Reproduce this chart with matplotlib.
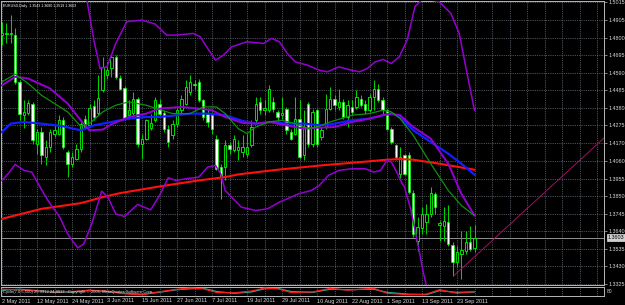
import matplotlib
matplotlib.use('Agg')
import matplotlib.pyplot as plt
import numpy as np
from matplotlib.transforms import blended_transform_factory
from matplotlib import font_manager

plt.rcParams['font.family'] = ['Liberation Sans', 'DejaVu Sans']
_names = {f.name for f in font_manager.fontManager.ttflist}
narrow_family = ['Liberation Sans Narrow', 'Liberation Sans'] if 'Liberation Sans Narrow' in _names else ['Liberation Sans']

# ---------------- data ----------------
title = "EURUSD,Daily  1.3543 1.3680 1.3519 1.3603"

opens = [1.4815,1.4819,1.4819,1.4815,1.4533,1.4335,1.4351,1.4405,1.4165,1.4235,
         1.4085,1.4145,1.4225,1.4225,1.4305,1.4115,1.4045,1.4075,1.4135,1.4315,
         1.4275,1.4389,1.4351,1.4485,1.4575,1.4615,1.4685,1.4561,1.4501,1.4335,
         1.4351,1.4435,1.4165,1.4195,1.4261,1.4305,1.4405,1.4351,1.4255,1.4215,
         1.4285,1.4365,1.4405,1.4475,1.4525,1.4535,1.4425,1.4345,1.4335,1.4195,
         1.4025,1.4025,1.4155,1.4125,1.4125,1.4115,1.4105,1.4155,1.4305,1.4415,
         1.4365,1.4365,1.4415,1.4355,1.4335,1.4375,1.4235,1.4225,1.4315,1.4095,
         1.4405,1.4165,1.4365,1.4205,1.4265,1.4375,1.4435,1.4385,1.4415,1.4325,
         1.4385,1.4385,1.4435,1.4405,1.4365,1.4445,1.4495,1.4425,1.4365,1.4255,
         1.4155,1.3985,1.4095,1.4095,1.3869,1.3585,1.3661,1.3695,1.3745,1.3865,
         1.3681,1.3675,1.3695,1.3561,1.3455,1.3505,1.3525,1.3575,1.3543]
highs = [1.4895,1.4885,1.4935,1.4855,1.4545,1.4425,1.4425,1.4415,1.4255,1.4265,
         1.4185,1.4255,1.4285,1.4335,1.4325,1.4125,1.4115,1.4165,1.4295,1.4335,
         1.4405,1.4425,1.4575,1.4685,1.4655,1.4695,1.4695,1.4575,1.4509,1.4425,
         1.4475,1.4445,1.4225,1.4315,1.4345,1.4445,1.4435,1.4365,1.4275,1.4305,
         1.4385,1.4455,1.4545,1.4575,1.4545,1.4555,1.4435,1.4365,1.4355,1.4215,
         1.4045,1.4185,1.4175,1.4215,1.4185,1.4215,1.4225,1.4305,1.4445,1.4445,
         1.4425,1.4515,1.4445,1.4365,1.4445,1.4385,1.4255,1.4445,1.4425,1.4365,
         1.4415,1.4375,1.4375,1.4265,1.4465,1.4505,1.4455,1.4495,1.4435,1.4425,
         1.4425,1.4485,1.4455,1.4425,1.4465,1.4545,1.4525,1.4445,1.4375,1.4265,
         1.4165,1.4145,1.4105,1.4115,1.3885,1.3725,1.3785,1.3805,1.3905,1.3875,
         1.3705,1.3785,1.3795,1.3575,1.3555,1.3645,1.3645,1.3675,1.3680]
lows = [1.4755,1.4765,1.4765,1.4525,1.4305,1.4257,1.4335,1.4165,1.4105,1.4045,
        1.4035,1.4115,1.4205,1.4215,1.4135,1.3965,1.4025,1.4065,1.4115,1.4255,
        1.4265,1.4305,1.4335,1.4475,1.4555,1.4565,1.4555,1.4485,1.4309,1.4315,
        1.4335,1.4145,1.4075,1.4185,1.4245,1.4295,1.4325,1.4235,1.4145,1.4195,
        1.4265,1.4345,1.4395,1.4455,1.4495,1.4415,1.4305,1.4265,1.4225,1.4005,
        1.3835,1.3945,1.4105,1.4115,1.4065,1.4085,1.4085,1.4145,1.4285,1.4345,
        1.4335,1.4355,1.4355,1.4295,1.4315,1.4225,1.4185,1.4215,1.4075,1.4065,
        1.4145,1.4145,1.4145,1.4185,1.4255,1.4365,1.4365,1.4365,1.4315,1.4265,
        1.4335,1.4375,1.4385,1.4345,1.4355,1.4365,1.4415,1.4345,1.4245,1.4165,
        1.4065,1.3945,1.3975,1.3865,1.3605,1.3525,1.3625,1.3625,1.3725,1.3745,
        1.3585,1.3585,1.3555,1.3375,1.3425,1.3355,1.3505,1.3521,1.3519]
closes = [1.4825,1.4825,1.4829,1.4533,1.4345,1.4355,1.4407,1.4185,1.4235,1.4095,
          1.4145,1.4235,1.4245,1.4305,1.4145,1.4041,1.4085,1.4135,1.4285,1.4265,
          1.4381,1.4325,1.4441,1.4623,1.4605,1.4685,1.4565,1.4495,1.4321,1.4365,
          1.4435,1.4165,1.4195,1.4305,1.4291,1.4425,1.4345,1.4255,1.4175,1.4285,
          1.4365,1.4435,1.4505,1.4535,1.4515,1.4425,1.4325,1.4295,1.4255,1.4015,
          1.3965,1.4155,1.4135,1.4195,1.4145,1.4145,1.4145,1.4265,1.4405,1.4365,
          1.4381,1.4495,1.4375,1.4325,1.4351,1.4245,1.4195,1.4315,1.4085,1.4265,
          1.4165,1.4355,1.4165,1.4245,1.4375,1.4435,1.4395,1.4415,1.4325,1.4395,
          1.4355,1.4445,1.4395,1.4365,1.4445,1.4495,1.4425,1.4365,1.4255,1.4175,
          1.4085,1.4085,1.3985,1.3875,1.3625,1.3665,1.3745,1.3745,1.3871,1.3785,
          1.3689,1.3701,1.3565,1.3455,1.3515,1.3529,1.3575,1.3535,1.3603]

# long moving average (red)
red_idx = [0, 9, 18, 23, 27, 36, 45, 51, 54, 63, 73, 82, 88, 91, 94, 100, 108]
red_val = [1.3715, 1.3775, 1.3809, 1.3845, 1.3869, 1.3909, 1.3945, 1.3965, 1.3981,
           1.4009, 1.4035, 1.4055, 1.4069, 1.4073, 1.4069, 1.4045, 1.4009]

# blue moving average
blue_idx = [0, 2, 5, 9, 14, 18, 21, 25, 29, 33, 36, 40, 43, 47, 51, 55, 58, 62, 65, 69,
            73, 76, 80, 84, 87, 89, 91, 94, 98, 102, 105, 108]
blue_val = [1.4235, 1.4285, 1.4295, 1.4285, 1.4269, 1.4245, 1.4275, 1.4295, 1.4315,
            1.4325, 1.4325, 1.4335, 1.4345, 1.4345, 1.4335, 1.4301, 1.4285, 1.4295,
            1.4285, 1.4285, 1.4275, 1.4285, 1.4305, 1.4315, 1.4335, 1.4345, 1.4325,
            1.4245, 1.4175, 1.4105, 1.4045, 1.3979]

# inner purple moving average
mid_idx = [0, 3, 6, 11, 15, 18, 20, 23, 25, 29, 33, 36, 41, 45, 48, 51, 55, 58, 61, 65,
           69, 73, 76, 80, 84, 87, 89, 91, 94, 98, 102, 105, 108]
mid_val = [1.4515, 1.4565, 1.4555, 1.4495, 1.4405, 1.4305, 1.4245, 1.4249, 1.4281,
           1.4325, 1.4345, 1.4375, 1.4385, 1.4375, 1.4365, 1.4325, 1.4289, 1.4285,
           1.4295, 1.4275, 1.4255, 1.4261, 1.4265, 1.4295, 1.4315, 1.4335, 1.4345,
           1.4335, 1.4265, 1.4195, 1.4045, 1.3865, 1.3735]

# green moving average
green_idx = [0, 3, 6, 9, 12, 15, 18, 20, 23, 26, 29, 33, 36, 39, 43, 46, 49, 51, 54, 56,
             58, 61, 64, 67, 70, 72, 75, 80, 84, 87, 89, 91, 94, 98, 102, 105, 108]
green_val = [1.4535, 1.4581, 1.4525, 1.4455, 1.4405, 1.4355, 1.4269, 1.4285, 1.4355,
             1.4395, 1.4415, 1.4395, 1.4369, 1.4345, 1.4345, 1.4385, 1.4385, 1.4345,
             1.4255, 1.4225, 1.4265, 1.4295, 1.4305, 1.4285, 1.4255, 1.4265, 1.4295,
             1.4335, 1.4345, 1.4365, 1.4355, 1.4315, 1.4215, 1.4045, 1.3885, 1.3795,
             1.3735]

# outer bands (purple)
upper_idx = [16, 19.4, 21, 22.4, 24, 26, 28.5, 32, 35, 37.6, 40, 43.7, 45.3, 47, 48.8,
             50.6, 52.5, 56, 59.8, 61.6, 63.4, 65.2, 67, 69.8, 72.5, 74.4, 77, 79.8,
             81.7, 83.5, 85.3, 87.1, 89, 90.8, 92.6, 94.4, 96.3, 99.9, 102.6, 104.5,
             106.3, 108]
upper_val = [1.5525, 1.5025, 1.4785, 1.4615, 1.4625, 1.4765, 1.4895, 1.4905, 1.4881,
             1.4815, 1.4815, 1.4825, 1.4805, 1.4735, 1.4665, 1.4695, 1.4745, 1.4775,
             1.4765, 1.4795, 1.4775, 1.4705, 1.4655, 1.4635, 1.4605, 1.4595, 1.4625,
             1.4605, 1.4595, 1.4615, 1.4655, 1.4669, 1.4645, 1.4685, 1.4785, 1.4985,
             1.5035, 1.5015, 1.4945, 1.4825, 1.4585, 1.4365]
lower_idx = [0, 1.4, 3, 5, 6.8, 8.7, 10.5, 13.2, 15, 17.3, 18.7, 20.5, 22.8, 24.2, 26,
             28, 31, 34, 36, 38, 39.7, 42, 45, 47, 48.8, 50, 51, 52.5, 54.7, 58, 60.7,
             63.4, 65.2, 67.8, 70.7, 72.5, 74.6, 77, 80, 83, 85, 86.5, 88, 89, 90.2,
             91.5, 92, 93.5, 94.4, 95.5, 96.2, 97, 98]
lower_val = [1.3945, 1.3985, 1.4041, 1.4005, 1.3995, 1.3905, 1.3825, 1.3725, 1.3625,
             1.3541, 1.3565, 1.3685, 1.3881, 1.3845, 1.3745, 1.3729, 1.3801, 1.3769,
             1.3855, 1.3961, 1.3945, 1.3955, 1.3965, 1.4025, 1.4035, 1.3985, 1.3885,
             1.3845, 1.3785, 1.3765, 1.3775, 1.3815, 1.3835, 1.3865, 1.3885, 1.3915,
             1.3975, 1.4005, 1.4015, 1.4015, 1.3995, 1.4005, 1.4065, 1.4055, 1.3995,
             1.3925, 1.3905, 1.3765, 1.3645, 1.3505, 1.3405, 1.3315, 1.3185]

# trend line anchors
trend_idx = [103.3, 137.6]
trend_val = [1.3375, 1.4199]

bid_price = 1.3603

price_ticks = [1.5015, 1.4905, 1.4800, 1.4695, 1.4590, 1.4485, 1.4380, 1.4275, 1.4170,
               1.4060, 1.3955, 1.3850, 1.3745, 1.3640, 1.3535, 1.3430, 1.3325]
price_labels = ["1.5015", "1.4905", "1.4800", "1.4695", "1.4590", "1.4485", "1.4380",
                "1.4275", "1.4170", "1.4060", "1.3955", "1.3850", "1.3745", "1.3640",
                "1.3535", "1.3430", "1.3325"]

date_idx = [0, 8, 16, 24, 32, 40, 48, 56, 64, 72, 80, 88, 96, 104]
date_labels = ["2 May 2011", "12 May 2011", "24 May 2011", "3 Jun 2011", "15 Jun 2011",
               "27 Jun 2011", "7 Jul 2011", "19 Jul 2011", "29 Jul 2011", "10 Aug 2011",
               "22 Aug 2011", "1 Sep 2011", "13 Sep 2011", "23 Sep 2011"]

# oscillator sub-window
osc_idx = [0, 4, 8, 12, 16, 20, 24, 28, 32, 35, 40, 43, 46, 49, 53, 57, 60, 63, 66, 71,
           75, 79, 85, 88, 93, 97, 100, 104, 108]
osc_red = [75, 70, 55, 45, 50, 60, 55, 25, 12, 40, 75, 88, 80, 40, 35, 55, 88, 80, 40, 45,
           85, 65, 85, 30, 15, 20, 70, 30, 50]
osc_teal = [65, 75, 60, 40, 45, 65, 50, 30, 20, 35, 70, 80, 85, 50, 30, 45, 80, 85, 50, 40,
            75, 70, 75, 40, 20, 15, 60, 40, 45]
osc_caption = "Cycle(7,0.5,500) 25.3912 24.8017   Copyright \u00a9 2005, MetaQuotes Software Corp."

# ---------------- layout ----------------
W, H = 625, 305
fig = plt.figure(figsize=(W / 100, H / 100), dpi=100, facecolor='black')


def fx(px):
    return px / W


def fy(py):
    return 1 - py / H


ax = fig.add_axes([fx(1), fy(285), fx(604) - fx(1), fy(1) - fy(285)], facecolor='black')
axs = fig.add_axes([fx(1), fy(296), fx(604) - fx(1), fy(287) - fy(296)], facecolor='black')

XL = (-0.23, 137.6)
ax.set_xlim(*XL)
axs.set_xlim(*XL)
ax.set_ylim(1.3319, 1.5019)
axs.set_ylim(0, 100)

grid_col = '#6c7480'
grid_ls = (0, (1.6, 1.6))
xg = np.arange(0, 138, 4)
for a in (ax, axs):
    for s in a.spines.values():
        s.set_color('#b8b8b8')
        s.set_linewidth(0.7)
    a.set_xticks(xg)
    a.tick_params(axis='x', bottom=False, labelbottom=False)
    a.grid(True, axis='x', color=grid_col, linestyle=grid_ls, linewidth=0.5)
    a.set_axisbelow(True)

ax.set_yticks(price_ticks)
ax.set_yticklabels(price_labels)
ax.yaxis.tick_right()
ax.tick_params(axis='y', left=False, right=True, labelleft=False, labelright=True,
               length=2, width=0.5, color='#b8b8b8', labelcolor='#d8d8d8',
               labelsize=3.9, pad=1.2)
ax.grid(True, axis='y', color=grid_col, linestyle=grid_ls, linewidth=0.5)
axs.set_yticks([])

# ---------------- candles ----------------
o = np.array(opens)
h = np.array(highs)
l = np.array(lows)
c = np.array(closes)
idx = np.arange(len(o))
up = c >= o
ax.vlines(idx, l, h, color='#00d000', linewidth=0.75, zorder=2)
ax.bar(idx[up], (c - o)[up], bottom=o[up], width=0.55, color='black',
       edgecolor='#00ff00', linewidth=0.6, zorder=3)
ax.bar(idx[~up], (o - c)[~up], bottom=c[~up], width=0.55, color='white',
       edgecolor='#00ff00', linewidth=0.5, zorder=3)

# ---------------- indicator lines ----------------
ax.axhline(bid_price, color='#a8a8a8', linewidth=0.6, zorder=1.5)
ax.plot(red_idx, red_val, color='#ff1010', linewidth=1.5, zorder=4)
ax.plot(blue_idx, blue_val, color='#1020ff', linewidth=1.6, zorder=4)
ax.plot(mid_idx, mid_val, color='#9400d3', linewidth=1.4, zorder=4)
ax.plot(green_idx, green_val, color='#109010', linewidth=0.9, zorder=4)
ax.plot(upper_idx, upper_val, color='#9400d3', linewidth=1.1, zorder=4)
ax.plot(lower_idx, lower_val, color='#9400d3', linewidth=1.1, zorder=4)
ax.plot(trend_idx, trend_val, color='#a01060', linewidth=0.7, zorder=4)

# current price box
tr = blended_transform_factory(ax.transAxes, ax.transData)
ax.text(1.006, bid_price, "1.3603", transform=tr, ha='left', va='center', fontsize=3.9,
        color='black', clip_on=False,
        bbox=dict(boxstyle='square,pad=0.15', facecolor='#d0d0d0', edgecolor='white',
                  linewidth=0.4))

# title
fig.text(fx(3), fy(6), title, ha='left', va='center', fontsize=2.6, color='white',
         family=narrow_family)

# ---------------- sub window ----------------
axs.plot(osc_idx, osc_teal, color='#20b0a8', linewidth=0.9, zorder=3)
axs.plot(osc_idx, osc_red, color='#ff1818', linewidth=0.9, zorder=3)
axs.text(0.003, 0.5, osc_caption, transform=axs.transAxes, ha='left', va='center',
         fontsize=3.0, color='#e0e0e0', zorder=5, family=narrow_family)
fig.text(fx(607), fy(291.5), "80", ha='left', va='center', fontsize=3.6, color='#d8d8d8')

# date labels
trd = blended_transform_factory(axs.transData, fig.transFigure)
for k, lab in zip(date_idx, date_labels):
    axs.text(k, fy(301), lab, transform=trd, ha='left', va='center', fontsize=4.0,
             color='#d8d8d8', clip_on=False)

fig.savefig('out.png', dpi=100, facecolor='black')
